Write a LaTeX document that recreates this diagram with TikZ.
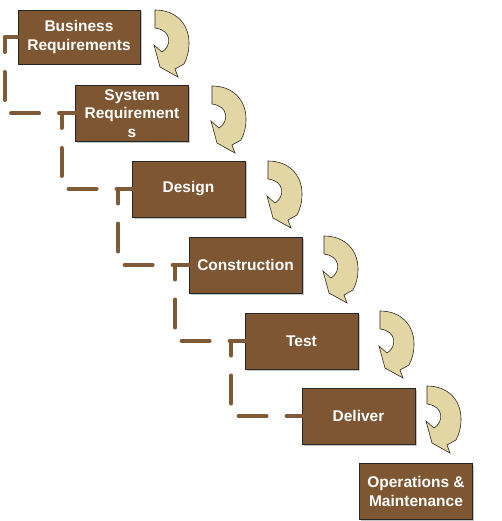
\documentclass[tikz,border=0pt]{standalone}
\usepackage{fontspec}
\setmainfont{Liberation Sans}
\definecolor{boxbrown}{RGB}{127,86,50}
\definecolor{connbrown}{RGB}{127,90,55}
\definecolor{arrowfill}{RGB}{227,214,165}
\definecolor{arrowline}{RGB}{45,40,30}
\begin{document}
\begin{tikzpicture}[x=1pt,y=-1pt,
  stage/.style={draw=black!85, line width=0.8pt, fill=boxbrown, text=white,
    font=\bfseries\fontsize{15.5}{18.5}\selectfont, align=center, inner sep=0pt,
    minimum width=113pt, minimum height=56pt},
  conn/.style={draw=connbrown, line width=4pt, line cap=round, line join=round,
    dash pattern=on 28pt off 20pt},
  turnarrow/.style={fill=arrowfill, draw=arrowline, line width=0.6pt, line join=miter}]
\useasboundingbox (0,0) rectangle (501,521);
% shadows
\foreach \cx/\cy/\w/\h in {79/37/122/54,132/113.5/113/56,188.5/189/113/56,245.5/265/113/56,301.5/341/113/56,358.5/416/113/56,416/491.5/113/56}
  \fill[black!22] (\cx-\w/2+1.5,\cy-\h/2+1.5) rectangle (\cx+\w/2+1.5,\cy+\h/2+1.5);
\node[stage, minimum width=122pt, minimum height=54pt] (b1) at (79,37) {Business\\Requirements};
\node[stage] (b2) at (132,113.5) {System\\Requirement\\s};
\node[stage] (b3) at (188.5,189) {Design};
\node[stage] (b4) at (245.5,265) {Construction};
\node[stage] (b5) at (301.5,341) {Test};
\node[stage] (b6) at (358.5,416) {Deliver};
\node[stage] (b7) at (416,491.5) {Operations \&\\Maintenance};
% dashed elbow connectors
\draw[conn] (b1.west) -- ++(-13,0) |- (b2.west);
\draw[conn] (b2.west) -- ++(-13.5,0) |- (b3.west);
\draw[conn] (b3.west) -- ++(-13.5,0) |- (b4.west);
\draw[conn] (b4.west) -- ++(-13.5,0) |- (b5.west);
\draw[conn] (b5.west) -- ++(-13.5,0) |- (b6.west);
% curved turn arrows
\foreach \ax/\ay in {155/10,212/86,268/161,324/236,380/311,427/386}
  \draw[turnarrow, shift={(\ax,\ay)}]
    (0,0) .. controls (21,0) and (34,14) .. (34,33)
    .. controls (34,42) and (32,48) .. (29,54)
    -- (20,59) -- (23,67) -- (5,57) -- (-1,35) -- (7,42)
    .. controls (17,36) and (17,20) .. (0,18) -- cycle;
\end{tikzpicture}
\end{document}
